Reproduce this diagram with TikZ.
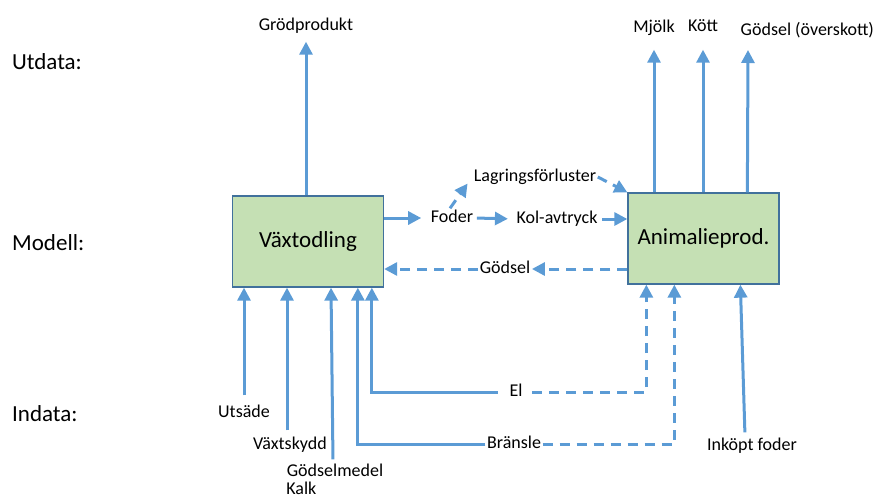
\documentclass[tikz,border=0pt]{standalone}
\usepackage{fontspec}
\setmainfont{Carlito}
\usetikzlibrary{arrows.meta,calc}
\definecolor{arrblue}{HTML}{5B9BD5}
\definecolor{boxfill}{HTML}{C5E0B4}
\definecolor{boxline}{HTML}{41719C}
\begin{document}
\begin{tikzpicture}[x=1pt,y=-1pt,
  lbl/.style={font=\fontsize{18}{21}\selectfont, inner sep=1.5pt, text height=12pt, text depth=4pt},
  biglbl/.style={font=\fontsize{23}{27}\selectfont, anchor=west, inner sep=0pt},
  box/.style={draw=boxline, fill=boxfill, line width=1.3pt, minimum width=151pt, minimum height=91pt, inner sep=0pt, font=\fontsize{23}{27}\selectfont},
  arr/.style={draw=arrblue, line width=3pt, -{Triangle[length=13pt,width=13pt]}},
  arrd/.style={arr, dash pattern=on 10pt off 7pt}
]
\useasboundingbox (0,0) rectangle (877,499);

% boxes
\node[box] (V) at (308,241.5) {Växtodling};
\node[box] (A) at (703.5,238.5) {Animalieprod.};

% row labels
\node[biglbl] (utd) at (12,62) {Utdata:};
\node[biglbl] (mod) at (12,243) {Modell:};
\node[biglbl] (ind) at (12,414) {Indata:};

% outputs
\node[lbl] (grod) at (306,26) {Grödprodukt};
\node[lbl] (mjolk) at (654,28) {Mjölk};
\node[lbl] (kott) at (703,27) {Kött};
\node[lbl, anchor=west] (gods) at (739,31) {Gödsel (överskott)};
\coordinate (gtip) at (748,50);

\draw[arr, shorten >=6pt] (grod.south |- V.north) -- (grod.south);
\draw[arr, shorten >=12pt] (mjolk.south |- A.north) -- (mjolk.south);
\draw[arr, shorten >=13pt] (kott.south |- A.north) -- (kott.south);
\draw[arr] ($(A.north west)+(120,0)$) -- (gtip);

% middle flows
\node[lbl] (foder) at (452,218) {Foder};
\node[lbl] (kol) at (557,219) {Kol-avtryck};
\node[lbl] (lag) at (535,177) {Lagringsförluster};
\node[lbl] (gds) at (505,269) {Gödsel};

\draw[arr, shorten >=8pt] (V.east |- foder) -- (foder.west);
\draw[arr, shorten <=2pt, shorten >=7pt] (foder.east) -- (kol.west);
\draw[arr, shorten <=3pt] (kol.east) -- (kol.east -| A.west);
\draw[arrd, shorten >=8pt] ($(foder.north)+(-2,0)$) -- (lag.west);
\draw[arrd] (lag.east) -- (A.north west);
\draw[arrd] (A.west |- gds) -- (gds.east);
\draw[arrd] (gds.west) -- (gds.west -| V.east);

% inputs
\node[lbl] (uts) at (244,413) {Utsäde};
\node[lbl] (vsk) at (290,445) {Växtskydd};
\node[lbl] (gm) at (335,472) {Gödselmedel};
\node[lbl, anchor=north west, text depth=0pt, inner sep=1pt] (kalk) at (gm.south west) {Kalk};
\node[lbl] (el) at (516,392) {El};
\node[lbl] (bra) at (514,444) {Bränsle};
\node[lbl] (ink) at (752,446) {Inköpt foder};

\draw[arr, shorten <=8pt] (uts.north) -- (uts.north |- V.south);
\draw[arr, shorten <=5pt] ($(vsk.north)+(-3,0)$) -- ($(vsk.north |- V.south)+(-3,0)$);
\draw[arr, shorten <=3pt] ($(gm.north)+(-2,0)$) -- ($(gm.north |- V.south)+(-4,0)$);
\draw[arr, shorten <=10pt] (el.west) -| ($(V.south west)+(140,0)$);
\draw[arr] (bra.west) -| ($(V.south west)+(126,0)$);
\draw[arrd, shorten <=8pt] (el.east) -| ($(A.south west)+(19,0)$);
\draw[arrd] (bra.east) -| ($(A.south west)+(47,0)$);
\draw[arr, shorten <=4pt] ($(ink.north)+(-7,0)$) -- ($(A.south west)+(113,0)$);
\end{tikzpicture}
\end{document}
